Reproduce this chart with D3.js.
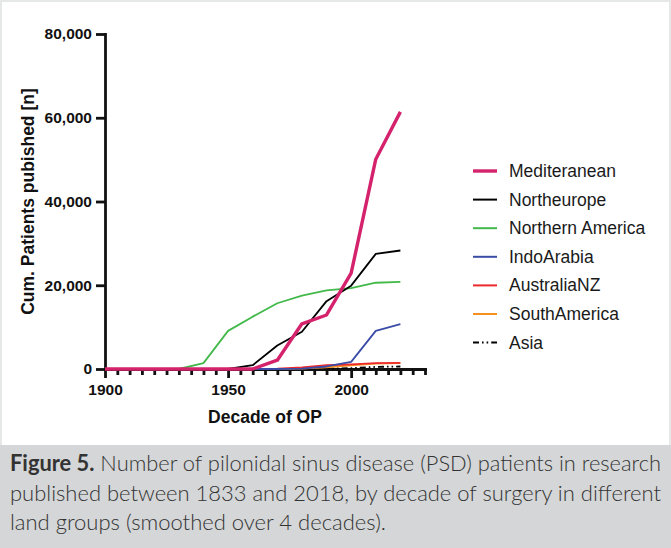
<!DOCTYPE html>
<html>
<head>
<meta charset="utf-8">
<script src="https://cdn.jsdelivr.net/npm/d3@7"></script>
<style>
  html, body { margin: 0; padding: 0; background: #e6e7e7; }
  svg { display: block; }
  .axis text { font-family: "Liberation Sans", Arial, sans-serif; font-weight: bold; font-size: 15.5px; fill: #111; }
  .axis path, .axis line { stroke: #111; stroke-width: 2.8; }
  .axis-title { font-family: "Liberation Sans", Arial, sans-serif; font-weight: bold; font-size: 17.5px; fill: #111; }
  .legend-label { font-family: "Liberation Sans", Arial, sans-serif; font-size: 17.5px; fill: #1a1a1a; }
  .caption { font-family: "Lato", "Open Sans", sans-serif; font-weight: 300; font-size: 22px; fill: #333; }
</style>
</head>
<body>
<div id="chart"></div>
<script>

// Data: cumulative patients by decade
const decades = [1900, 1910, 1920, 1930, 1940, 1950, 1960, 1970, 1980, 1990, 2000, 2010, 2020]
const mediterranean    = [0, 0, 0, 0, 0, 0, 0, 2100, 10800, 12900, 22900, 50100, 61400]
const northeurope      = [0, 0, 0, 0, 0, 0, 900, 5600, 8900, 16200, 19900, 27500, 28300]
const northern_america = [0, 0, 0, 0, 1400, 9100, 12500, 15700, 17500, 18800, 19300, 20600, 20800]
const indoarabia       = [0, 0, 0, 0, 0, 0, 0, 0, 100, 600, 1700, 9100, 10700]
const australianz      = [0, 0, 0, 0, 0, 0, 0, 100, 400, 900, 1100, 1400, 1450]
const southamerica     = [0, 0, 0, 0, 0, 0, 0, 0, 100, 400, 900, 1300, 1400]
const asia             = [0, 0, 0, 0, 0, 0, 0, 0, 0, 100, 200, 500, 600]

const series_names = ['Mediteranean', 'Northeurope', 'Northern America', 'IndoArabia', 'AustraliaNZ', 'SouthAmerica', 'Asia']
const y_ticks = [0, 20000, 40000, 60000, 80000]
const x_major_ticks = [1900, 1950, 2000]

const caption_lines = [
  ['Figure 5.', ' Number of pilonidal sinus disease (PSD) patients in research'],
  ['', 'published between 1833 and 2018, by decade of surgery in different'],
  ['', 'land groups (smoothed over 4 decades).']
]

const series_values = [mediterranean, northeurope, northern_america, indoarabia, australianz, southamerica, asia]
const series_style = [
  { color: '#d4236c', width: 3.4, dash: null },
  { color: '#000000', width: 1.8, dash: null },
  { color: '#43b94a', width: 1.8, dash: null },
  { color: '#3a4ca6', width: 1.8, dash: null },
  { color: '#ec2a2e', width: 1.8, dash: null },
  { color: '#f7901e', width: 1.8, dash: null },
  { color: '#000000', width: 1.8, dash: '6,3,1.6,3,1.6,3' }
]

const W = 671
const H = 548

let svg = d3.select('#chart')
  .append('svg')
  .attr('width', W)
  .attr('height', H)

// Panels
svg.append('rect')
  .attr('x', 2).attr('y', 2)
  .attr('width', 667).attr('height', 443)
  .attr('fill', '#ffffff')
svg.append('rect')
  .attr('x', 0).attr('y', 445)
  .attr('width', W).attr('height', H - 445)
  .attr('fill', '#d4d6d7')

// Scales
let x = d3.scaleLinear().domain([1900, 2030]).range([105, 425])
let y = d3.scaleLinear().domain([0, 80000]).range([369, 34])

// Y axis
svg.append('g')
  .attr('class', 'axis')
  .attr('transform', `translate(${x(1900)},0)`)
  .call(d3.axisLeft(y)
    .tickValues(y_ticks)
    .tickFormat(d3.format(','))
    .tickSize(9)
    .tickSizeOuter(0)
    .tickPadding(4))

// X axis, minor ticks first
svg.append('g')
  .attr('class', 'axis')
  .attr('transform', `translate(0,${y(0)})`)
  .call(d3.axisBottom(x)
    .tickValues(d3.range(1905, 2031, 5).filter(d => d % 50 != 0))
    .tickFormat('')
    .tickSize(6)
    .tickSizeOuter(0))

svg.append('g')
  .attr('class', 'axis')
  .attr('transform', `translate(0,${y(0)})`)
  .call(d3.axisBottom(x)
    .tickValues(x_major_ticks)
    .tickFormat(d3.format('d'))
    .tickSize(9)
    .tickSizeOuter(0)
    .tickPadding(6))

svg.selectAll('.axis .domain').attr('stroke-linecap', 'square')

// Axis titles
svg.append('text')
  .attr('class', 'axis-title')
  .attr('text-anchor', 'middle')
  .attr('transform', `translate(34,${(y(0) + y(80000)) / 2}) rotate(-90)`)
  .text('Cum. Patients pubished [n]')

svg.append('text')
  .attr('class', 'axis-title')
  .attr('text-anchor', 'middle')
  .attr('x', (x(1900) + x(2030)) / 2)
  .attr('y', 423)
  .text('Decade of OP')

// Lines, drawn last series first so Mediterranean is on top
let line = d3.line()
  .x((d, i) => x(decades[i]))
  .y(d => y(d))

let order = d3.range(series_values.length).reverse()
svg.append('g')
  .selectAll('path')
  .data(order)
  .enter()
  .append('path')
    .attr('d', i => line(series_values[i]))
    .attr('fill', 'none')
    .attr('stroke', i => series_style[i].color)
    .attr('stroke-width', i => series_style[i].width)
    .attr('stroke-dasharray', i => series_style[i].dash)
    .attr('stroke-linejoin', 'round')

// Legend
let legend = svg.append('g')
  .selectAll('g')
  .data(series_names)
  .enter()
  .append('g')
    .attr('transform', (d, i) => `translate(473,${171 + i * 28.6})`)

legend.append('line')
  .attr('x1', 0).attr('x2', 24)
  .attr('stroke', (d, i) => series_style[i].color)
  .attr('stroke-width', (d, i) => i == 0 ? 3.4 : 2)
  .attr('stroke-dasharray', (d, i) => series_style[i].dash)

legend.append('text')
  .attr('class', 'legend-label')
  .attr('x', 36)
  .attr('y', 6)
  .text(d => d)

// Caption
let caption = svg.append('g')
caption_lines.forEach(function (parts, i) {
  let t = caption.append('text')
    .attr('class', 'caption')
    .attr('x', 10)
    .attr('y', 471 + i * 29.5)
  if (i < 2) {
    t.attr('textLength', 651).attr('lengthAdjust', 'spacingAndGlyphs')
  }
  if (parts[0]) {
    t.append('tspan').attr('font-weight', 'bold').text(parts[0])
  }
  t.append('tspan').text(parts[1])
})

</script>
</body>
</html>
